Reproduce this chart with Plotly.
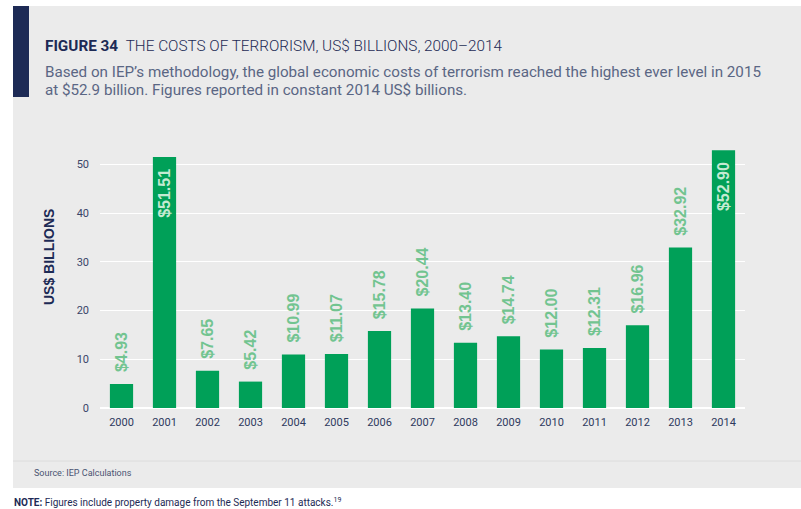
import plotly.graph_objects as go

years = ["2000", "2001", "2002", "2003", "2004", "2005", "2006", "2007",
         "2008", "2009", "2010", "2011", "2012", "2013", "2014"]
costs = [4.93, 51.51, 7.65, 5.42, 10.99, 11.07, 15.78, 20.44,
         13.40, 14.74, 12.00, 12.31, 16.96, 32.92, 52.90]
y_ticks = [0, 10, 20, 30, 40, 50]

W, H = 801, 509
ML, MR, MT, MB = 100, 56, 140, 101
PW, PH = W - ML - MR, H - MT - MB


def px_x(px):
    return (px - ML) / PW


def px_y(py):
    return (H - MB - py) / PH


GREEN = "#00a058"
NAVY = "#1d2a55"

inside = [v > 40 for v in costs]
texts = []
positions = []
colors = []
for v, ins in zip(costs, inside):
    if ins:
        texts.append(f"${v:.2f}\u00a0\u00a0")
        positions.append("inside")
        colors.append("#c4ead2")
    else:
        texts.append(f"\u00a0\u00a0${v:.2f}")
        positions.append("outside")
        colors.append("#72c490")

label_font = dict(family="Liberation Sans", size=16, color=colors, weight="bold")

fig = go.Figure()
fig.add_trace(go.Bar(
    x=years, y=costs,
    marker=dict(color=GREEN, line=dict(width=0)),
    text=texts, textposition=positions, textangle=-90,
    insidetextanchor="end", constraintext="none", cliponaxis=False,
    textfont=label_font, insidetextfont=label_font, outsidetextfont=label_font,
    hoverinfo="skip",
))

shapes = [
    dict(type="rect", xref="paper", yref="paper", x0=px_x(13), x1=px_x(801),
         y0=px_y(488), y1=px_y(6), fillcolor="#ebebeb", line=dict(width=0), layer="below"),
    dict(type="rect", xref="paper", yref="paper", x0=px_x(13), x1=px_x(29),
         y0=px_y(97), y1=px_y(6), fillcolor=NAVY, line=dict(width=0), layer="below"),
    dict(type="line", xref="paper", yref="paper", x0=px_x(13), x1=px_x(801),
         y0=px_y(461), y1=px_y(461), line=dict(color="#dcdcdc", width=1), layer="below"),
]

annotations = [
    dict(xref="paper", yref="paper", x=px_x(43), y=px_y(46), xanchor="left", yanchor="middle",
         showarrow=False,
         text="<b>FIGURE 34</b>  <span style='font-weight:300'>THE COSTS OF TERRORISM, US$ BILLIONS, 2000–2014</span>",
         font=dict(family="Roboto", size=15.3, color=NAVY)),
    dict(xref="paper", yref="paper", x=px_x(43), y=px_y(72), xanchor="left", yanchor="middle",
         showarrow=False,
         text="Based on IEP’s methodology, the global economic costs of terrorism reached the highest ever level in 2015",
         font=dict(family="Roboto", size=15.2, color="#5a6684")),
    dict(xref="paper", yref="paper", x=px_x(43), y=px_y(90), xanchor="left", yanchor="middle",
         showarrow=False,
         text="at $52.9 billion. Figures reported in constant 2014 US$ billions.",
         font=dict(family="Roboto", size=15.2, color="#5a6684")),
    dict(xref="paper", yref="paper", x=px_x(49), y=px_y(257), xanchor="center", yanchor="middle",
         showarrow=False, textangle=-90, text="<b>US$ BILLIONS</b>",
         font=dict(family="Liberation Sans", size=14, color=NAVY)),
    dict(xref="paper", yref="paper", x=px_x(32), y=px_y(473), xanchor="left", yanchor="middle",
         showarrow=False, text="Source: IEP Calculations",
         font=dict(family="Roboto", size=9, color="#4a5472")),
    dict(xref="paper", yref="paper", x=px_x(12), y=px_y(502), xanchor="left", yanchor="middle",
         showarrow=False,
         text="<b>NOTE:</b> Figures include property damage from the September 11 attacks.<sup>19</sup>",
         font=dict(family="Roboto", size=10, color=NAVY)),
]

fig.update_layout(
    width=W, height=H,
    margin=dict(l=ML, r=MR, t=MT, b=MB, pad=0),
    paper_bgcolor="white",
    plot_bgcolor="rgba(0,0,0,0)",
    showlegend=False,
    bargap=0.46,
    shapes=shapes,
    annotations=annotations,
    font=dict(family="Roboto", color="#3a4568"),
    xaxis=dict(
        type="category", range=[-0.5, 14.5], showgrid=False, showline=False,
        ticks="", tickfont=dict(size=11, color="#2e3a5e"), ticklabelstandoff=6,
    ),
    yaxis=dict(
        range=[0, 55], tickvals=y_ticks, showgrid=True, gridcolor="white", gridwidth=1,
        zeroline=True, zerolinecolor="white", zerolinewidth=2, showline=False,
        ticks="", tickfont=dict(size=11, color="#3a4568"), ticklabelstandoff=10,
    ),
)

fig.write_html("out.html")
